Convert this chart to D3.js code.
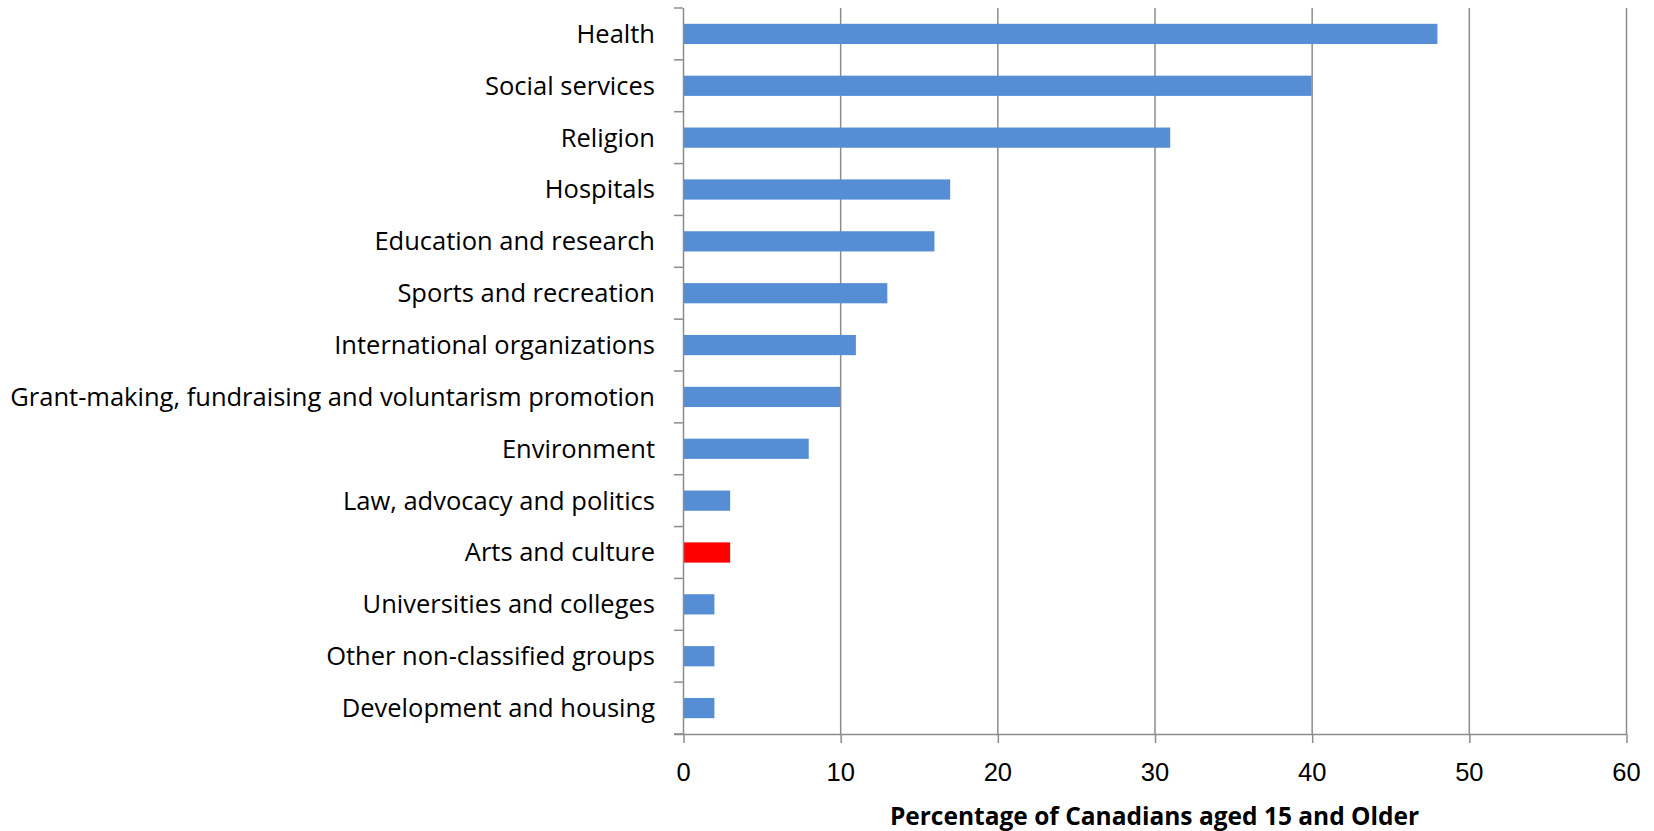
<!DOCTYPE html>
<html>
<head>
<meta charset="utf-8">
<script src="https://cdn.jsdelivr.net/npm/d3@7"></script>
<style>
  body { margin: 0; background: #fff; }
  svg { display: block; font-family: "Open Sans", sans-serif; }
</style>
</head>
<body>
<div id="chart"></div>
<script>
// categories top to bottom, as in the picture
const categories = [
  'Health', 'Social services', 'Religion', 'Hospitals', 'Education and research',
  'Sports and recreation', 'International organizations',
  'Grant-making, fundraising and voluntarism promotion', 'Environment',
  'Law, advocacy and politics', 'Arts and culture', 'Universities and colleges',
  'Other non-classified groups', 'Development and housing'
];
const values = [48, 40, 31, 17, 16, 13, 11, 10, 8, 3, 3, 2, 2, 2];
const highlighted = ['Arts and culture'];
const xTicks = [0, 10, 20, 30, 40, 50, 60];
const xTitle = 'Percentage of Canadians aged 15 and Older';

const width = 1654, height = 831;
const margin = {top: 8, right: 28, bottom: 97, left: 683};

const svg = d3.select('#chart')
  .append('svg')
    .attr('width', width)
    .attr('height', height);

const x = d3.scaleLinear()
  .domain([0, 60])
  .range([margin.left, width - margin.right]);

const y = d3.scaleBand()
  .domain(categories)
  .range([margin.top, height - margin.bottom])
  .paddingInner(0.61)
  .paddingOuter(0.305);

// band edges for the category tick marks
const step = (height - margin.bottom - margin.top) / categories.length;
const edges = d3.range(categories.length + 1).map(i => margin.top + i * step);

const grey = '#8c8c8c';

// vertical gridlines
svg.append('g')
  .selectAll('line')
  .data(xTicks.slice(1))
  .join('line')
    .attr('x1', d => x(d) + 0.5)
    .attr('x2', d => x(d) + 0.5)
    .attr('y1', margin.top)
    .attr('y2', height - margin.bottom)
    .attr('stroke', grey)
    .attr('stroke-width', 1.5);

// bars
svg.append('g')
  .selectAll('rect')
  .data(categories)
  .join('rect')
    .attr('x', x(0) + 1)
    .attr('y', d => y(d))
    .attr('width', (d, i) => x(values[i]) - x(0) - 1)
    .attr('height', y.bandwidth())
    .attr('fill', d => highlighted.includes(d) ? '#ff0000' : '#558ed5');

// x axis
const xAxis = svg.append('g')
  .attr('transform', `translate(0,${height - margin.bottom})`)
  .call(d3.axisBottom(x).tickValues(xTicks).tickSize(9));
xAxis.select('.domain').attr('stroke', grey).attr('stroke-width', 1.5)
  .attr('d', `M${margin.left - 9},0.5H${width - margin.right + 0.5}`);
xAxis.selectAll('.tick line').attr('stroke', grey).attr('stroke-width', 1.5)
  .attr('transform', 'translate(0.5,0)');
xAxis.selectAll('.tick text')
  .attr('fill', '#000')
  .style('font-size', '25.5px')
  .attr('y', 47)
  .attr('dy', null);

// y axis: tick marks at band edges, labels centred in bands
const yAxis = svg.append('g');
yAxis.append('line')
  .attr('x1', margin.left + 0.5).attr('x2', margin.left + 0.5)
  .attr('y1', margin.top).attr('y2', height - margin.bottom)
  .attr('stroke', grey).attr('stroke-width', 1.5);
yAxis.selectAll('line.tick')
  .data(edges)
  .join('line')
    .attr('class', 'tick')
    .attr('x1', margin.left - 9).attr('x2', margin.left)
    .attr('y1', d => d).attr('y2', d => d)
    .attr('stroke', grey).attr('stroke-width', 1.5);
yAxis.selectAll('text')
  .data(categories)
  .join('text')
    .attr('x', margin.left - 28)
    .attr('y', d => y(d) + y.bandwidth() / 2)
    .attr('dy', '0.35em')
    .attr('text-anchor', 'end')
    .style('font-size', '25.5px')
    .attr('fill', '#000')
    .text(d => d);

// axis title
svg.append('text')
  .attr('x', (x(0) + x(60)) / 2)
  .attr('y', 825)
  .attr('text-anchor', 'middle')
  .style('font-size', '24.5px')
  .style('font-weight', 'bold')
  .attr('fill', '#000')
  .text(xTitle);
</script>
</body>
</html>
